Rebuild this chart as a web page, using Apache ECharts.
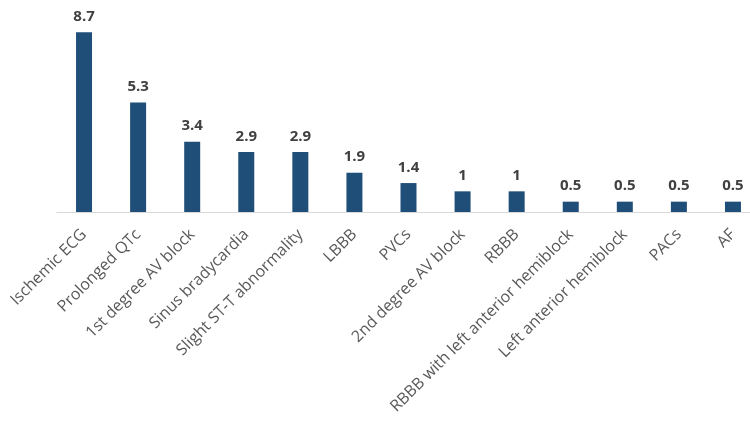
<!DOCTYPE html>
<html>
<head>
<meta charset="utf-8">
<script src="https://cdn.jsdelivr.net/npm/echarts@6/dist/echarts.min.js"></script>
<style>
  html, body { margin: 0; padding: 0; background: #fff; }
  #chart { width: 750px; height: 422px; }
</style>
</head>
<body>
<div id="chart"></div>
<script>
const categories = [
  'Ischemic ECG', 'Prolonged QTc', '1st degree AV block', 'Sinus bradycardia',
  'Slight ST-T abnormality', 'LBBB', 'PVCs', '2nd degree AV block', 'RBBB',
  'RBBB with left anterior hemiblock', 'Left anterior hemiblock', 'PACs', 'AF'
]
const values = [8.7, 5.3, 3.4, 2.9, 2.9, 1.9, 1.4, 1, 1, 0.5, 0.5, 0.5, 0.5]

const chart = echarts.init(document.getElementById('chart'))

chart.setOption({
  backgroundColor: '#fff',
  animation: false,
  grid: {
    left: 57,
    top: 26,
    width: 703,
    height: 186,
    outerBoundsMode: 'none'
  },
  xAxis: {
    type: 'category',
    data: categories,
    axisLine: { lineStyle: { color: '#d9d9d9', width: 1 } },
    axisTick: { show: false },
    axisLabel: {
      rotate: 45,
      interval: 0,
      margin: 20,
      color: '#595959',
      fontSize: 16,
      fontFamily: 'Open Sans'
    }
  },
  yAxis: {
    type: 'value',
    min: 0,
    max: 9,
    show: false
  },
  series: [{
    type: 'bar',
    data: values,
    barWidth: 16,
    itemStyle: { color: '#1f4e79' },
    label: {
      show: true,
      position: 'top',
      distance: 8,
      color: '#404040',
      fontSize: 15,
      fontWeight: 'bold',
      fontFamily: 'Open Sans'
    }
  }]
})
</script>
</body>
</html>
